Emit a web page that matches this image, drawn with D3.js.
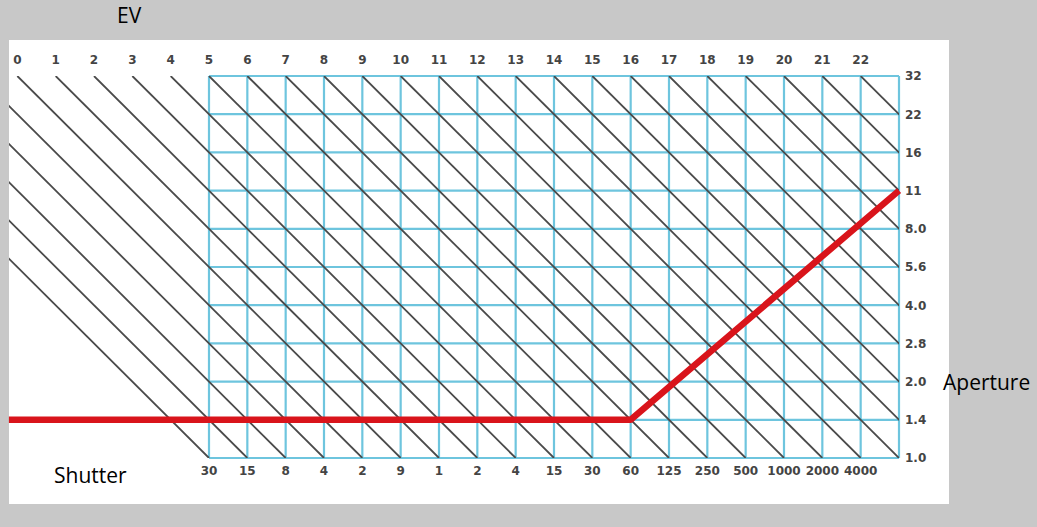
<!DOCTYPE html>
<html lang="en">
<head>
    <meta charset="UTF-8">
    <title>EV chart</title>
    <style>
        body { margin: 0; background: #c8c8c8; }
        svg { display: block; }
        .tick { font-family: "DejaVu Sans", sans-serif; font-weight: bold; font-size: 12px; fill: #444; }
        .title { font-family: "Open Sans", sans-serif; font-size: 21px; fill: #000; }
    </style>
</head>
<body>
    <script src="https://d3js.org/d3.v7.min.js"></script>
    <script>
        const evLabels = ["0", "1", "2", "3", "4", "5", "6", "7", "8", "9", "10", "11",
            "12", "13", "14", "15", "16", "17", "18", "19", "20", "21", "22"];
        const shutterLabels = ["30", "15", "8", "4", "2", "9", "1", "2", "4", "15", "30", "60",
            "125", "250", "500", "1000", "2000", "4000"];
        const apertureLabels = ["1.0", "1.4", "2.0", "2.8", "4.0", "5.6", "8.0", "11", "16", "22", "32"];
        // diagonal EV lines, by EV value (negative ones only show at the left edge)
        const evLines = [-5, -4, -3, -2, -1, 0, 1, 2, 3, 4, 5, 6, 7, 8, 9, 10, 11, 12,
            13, 14, 15, 16, 17, 18, 19, 20, 21, 22];
        // red program line: [shutter step, aperture step]
        const program = [[-5.22, 1], [11, 1], [18, 7]];

        const width = 1037, height = 527;
        const panel = { x: 9, y: 40, w: 940, h: 464 };
        const cols = 18, rows = 10;

        const svg = d3.select('body').append('svg')
            .attr('width', width).attr('height', height);

        const x = d3.scaleLinear().domain([0, cols]).range([209, 899]);
        const y = d3.scaleLinear().domain([0, rows]).range([458, 76]);

        svg.append('rect')
            .attr('x', panel.x).attr('y', panel.y)
            .attr('width', panel.w).attr('height', panel.h)
            .attr('fill', '#fff');

        svg.append('clipPath').attr('id', 'plot')
            .append('rect')
            .attr('x', panel.x).attr('y', y(rows))
            .attr('width', x(cols) - panel.x).attr('height', y(0) - y(rows));

        // blue grid
        const grid = svg.append('g').attr('stroke', '#6ec5de').attr('stroke-width', 2.2);
        grid.selectAll('line.v')
            .data(d3.range(cols + 1))
            .enter().append('line')
            .attr('x1', d => x(d)).attr('x2', d => x(d))
            .attr('y1', y(0)).attr('y2', y(rows));
        grid.selectAll('line.h')
            .data(d3.range(rows + 1))
            .enter().append('line')
            .attr('x1', x(0)).attr('x2', x(cols))
            .attr('y1', d => y(d)).attr('y2', d => y(d));

        // EV diagonals
        svg.append('g')
            .attr('clip-path', 'url(#plot)')
            .attr('stroke', '#4a4a4a').attr('stroke-width', 1.8)
            .selectAll('line')
            .data(evLines)
            .enter().append('line')
            .attr('x1', d => x(d - 5)).attr('y1', y(rows))
            .attr('x2', d => x(d - 5 + rows)).attr('y2', y(0));

        // red program line
        svg.append('path')
            .datum(program)
            .attr('fill', 'none')
            .attr('stroke', '#d9141b')
            .attr('stroke-width', 6.5)
            .attr('stroke-linejoin', 'round')
            .attr('d', d3.line().x(d => x(d[0])).y(d => y(d[1])));

        // tick labels
        svg.append('g').selectAll('text')
            .data(evLabels)
            .enter().append('text')
            .attr('class', 'tick')
            .attr('x', (d, i) => x(i - 5))
            .attr('y', 64)
            .attr('text-anchor', 'middle')
            .text(d => d);

        svg.append('g').selectAll('text')
            .data(shutterLabels)
            .enter().append('text')
            .attr('class', 'tick')
            .attr('x', (d, i) => x(i))
            .attr('y', 475)
            .attr('text-anchor', 'middle')
            .text(d => d);

        svg.append('g').selectAll('text')
            .data(apertureLabels)
            .enter().append('text')
            .attr('class', 'tick')
            .attr('x', x(cols) + 6)
            .attr('y', (d, i) => y(i))
            .attr('dy', '0.36em')
            .text(d => d);

        // axis titles
        svg.append('text').attr('class', 'title')
            .attr('x', 117).attr('y', 23).text('EV');
        svg.append('text').attr('class', 'title')
            .attr('x', 943).attr('y', 390).text('Aperture');
        svg.append('text').attr('class', 'title')
            .attr('x', 54).attr('y', 483).text('Shutter');
    </script>
</body>
</html>
